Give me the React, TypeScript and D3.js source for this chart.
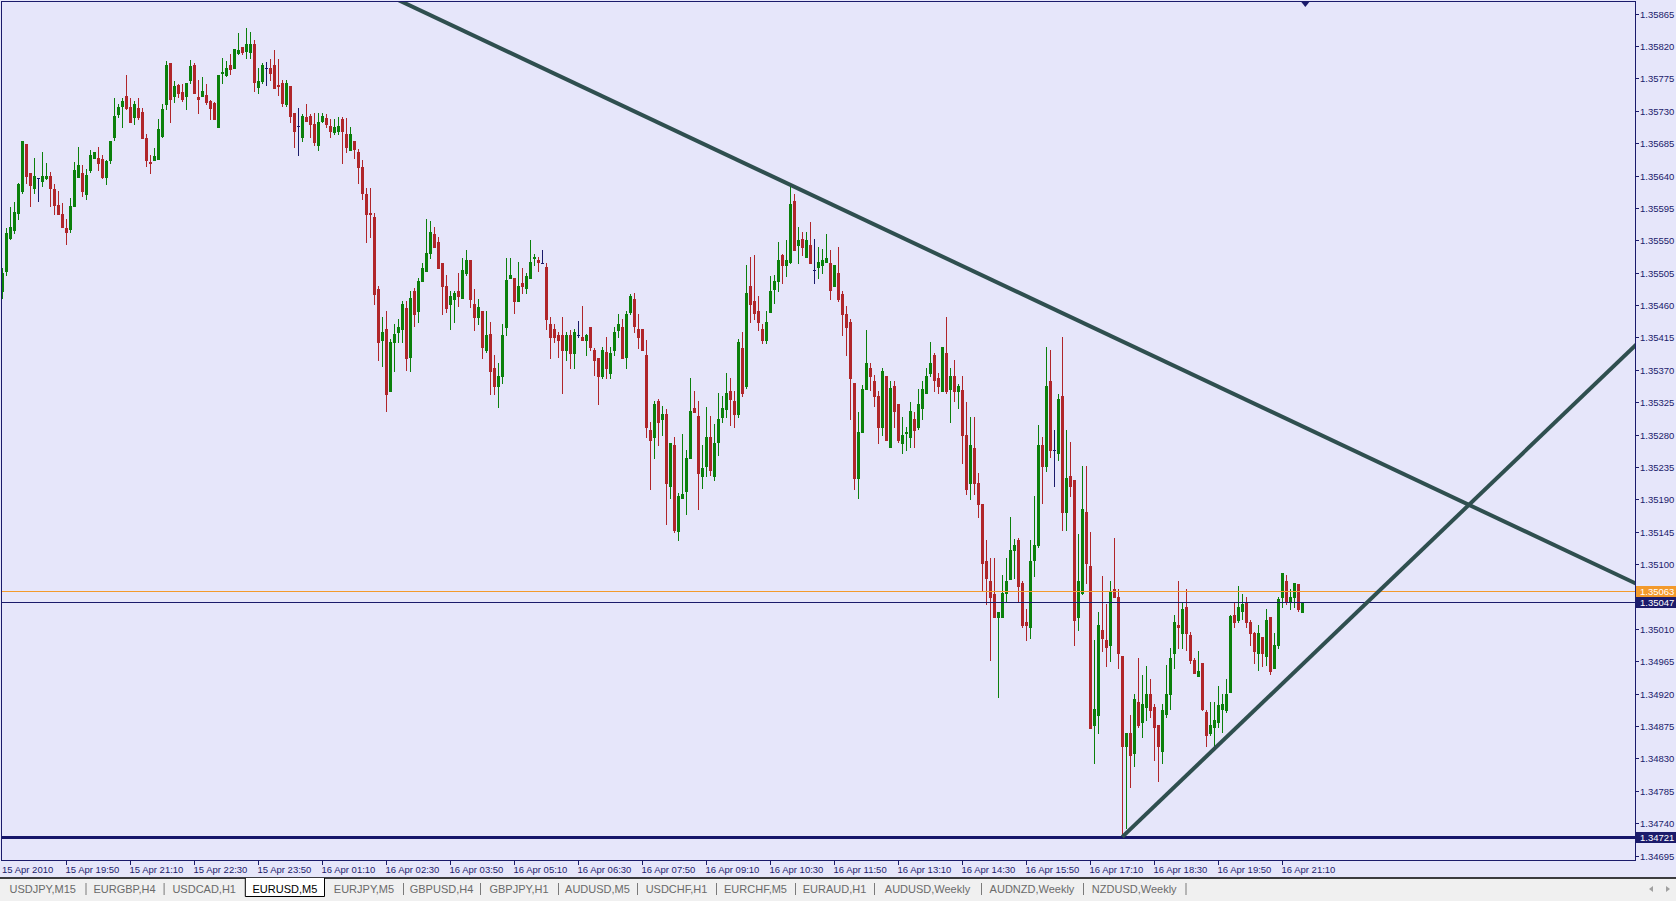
import React from "react";
import * as d3 from "d3";

// ---------- DATA (EURUSD, M5) ----------
const opens = [
1.35479,1.35507,1.35553,1.35564,1.35588,1.35619,1.35684,1.35643,1.35623,1.35637,
1.35633,1.35636,1.35640,1.35621,1.35599,1.35587,1.35567,1.35565,1.35597,1.35638,
1.35644,1.35614,1.35647,1.35665,1.35665,1.35663,1.35638,1.35662,1.35693,1.35726,
1.35737,1.35751,1.35735,1.35722,1.35734,1.35728,1.35692,1.35659,1.35661,1.35663,
1.35695,1.35739,1.35796,1.35751,1.35766,1.35756,1.35750,1.35773,1.35794,1.35749,
1.35751,1.35752,1.35744,1.35741,1.35708,1.35783,1.35779,1.35793,1.35790,1.35810,
1.35818,1.35813,1.35811,1.35823,1.35763,1.35772,1.35789,1.35789,1.35793,1.35766,
1.35768,1.35739,1.35764,1.35727,1.35709,1.35693,1.35722,1.35723,1.35712,1.35682,
1.35716,1.35720,1.35709,1.35701,1.35702,1.35719,1.35698,1.35675,1.35688,1.35673,
1.35652,1.35615,1.35588,1.35583,1.35483,1.35411,1.35427,1.35341,1.35408,1.35422,
1.35427,1.35456,1.35388,1.35480,1.35452,1.35494,1.35508,1.35533,1.35559,1.35548,
1.35518,1.35487,1.35462,1.35468,1.35480,1.35470,1.35504,1.35523,1.35462,1.35444,
1.35452,1.35397,1.35420,1.35373,1.35347,1.35361,1.35429,1.35498,1.35498,1.35465,
1.35490,1.35484,1.35498,1.35525,1.35523,1.35518,1.35513,1.35433,1.35427,1.35419,
1.35418,1.35397,1.35419,1.35394,1.35418,1.35416,1.35412,1.35429,1.35398,1.35387,
1.35361,1.35395,1.35366,1.35397,1.35426,1.35429,1.35388,1.35451,1.35469,1.35427,
1.35427,1.35390,1.35286,1.35277,1.35327,1.35302,1.35308,1.35208,1.35266,1.35146,
1.35192,1.35201,1.35248,1.35317,1.35306,1.35222,1.35236,1.35277,1.35222,1.35270,
1.35304,1.35316,1.35340,1.35327,1.35308,1.35401,1.35348,1.35487,1.35466,1.35452,
1.35427,1.35412,1.35451,1.35483,1.35494,1.35529,1.35516,1.35520,1.35605,1.35543,
1.35552,1.35527,1.35543,1.35509,1.35513,1.35516,1.35520,1.35519,1.35486,1.35505,
1.35476,1.35448,1.35437,1.35352,1.35220,1.35283,1.35344,1.35373,1.35355,1.35333,
1.35291,1.35362,1.35263,1.35348,1.35322,1.35269,1.35282,1.35277,1.35302,1.35290,
1.35317,1.35338,1.35365,1.35391,1.35359,1.35341,1.35394,1.35344,1.35362,1.35340,
1.35342,1.35279,1.35213,1.35261,1.35213,1.35184,1.35105,1.35077,1.35058,1.35026,
1.35027,1.35060,1.35080,1.35119,1.35133,1.35074,1.35020,1.35013,1.35106,1.35126,
1.35265,1.35236,1.35354,1.35259,1.35255,1.35334,1.35172,1.35223,1.35217,1.35027,
1.35060,1.35173,1.35098,1.34876,1.34890,1.35009,1.34995,1.34987,1.35066,1.35055,
1.34973,1.34847,1.34865,1.34838,1.34908,1.34880,1.34902,1.34919,1.34902,1.34876,
1.34840,1.34892,1.34919,1.34977,1.35015,1.35005,1.35041,1.35002,1.34967,1.34944,
1.34963,1.34895,1.34865,1.34874,1.34881,1.34899,1.34897,1.34922,1.35030,1.35022,
1.35035,1.35047,1.35019,1.35005,1.34977,1.34999,1.34972,1.35026,1.34956,1.34987,
1.35055,1.35077,1.35048,1.35054,1.35072,1.35033
];

const highs = [
1.35512,1.35567,1.35596,1.35603,1.35630,1.35688,1.35684,1.35643,1.35664,1.35637,
1.35673,1.35658,1.35645,1.35628,1.35619,1.35602,1.35579,1.35609,1.35659,1.35679,
1.35654,1.35649,1.35675,1.35673,1.35679,1.35669,1.35661,1.35688,1.35748,1.35740,
1.35748,1.35779,1.35748,1.35743,1.35748,1.35734,1.35698,1.35668,1.35678,1.35719,
1.35740,1.35799,1.35796,1.35771,1.35767,1.35767,1.35769,1.35800,1.35796,1.35773,
1.35777,1.35767,1.35745,1.35742,1.35779,1.35803,1.35799,1.35809,1.35816,1.35838,
1.35818,1.35845,1.35840,1.35829,1.35790,1.35797,1.35798,1.35802,1.35814,1.35802,
1.35773,1.35773,1.35764,1.35727,1.35734,1.35726,1.35739,1.35726,1.35727,1.35727,
1.35727,1.35726,1.35718,1.35719,1.35722,1.35722,1.35720,1.35708,1.35688,1.35677,
1.35661,1.35623,1.35623,1.35588,1.35487,1.35443,1.35452,1.35413,1.35433,1.35441,
1.35466,1.35466,1.35479,1.35484,1.35498,1.35519,1.35579,1.35577,1.35568,1.35554,
1.35519,1.35502,1.35479,1.35480,1.35505,1.35526,1.35537,1.35523,1.35483,1.35468,
1.35452,1.35452,1.35437,1.35391,1.35379,1.35434,1.35525,1.35525,1.35498,1.35520,
1.35512,1.35505,1.35550,1.35531,1.35527,1.35537,1.35518,1.35443,1.35433,1.35423,
1.35444,1.35423,1.35425,1.35427,1.35438,1.35459,1.35420,1.35430,1.35401,1.35387,
1.35402,1.35416,1.35402,1.35430,1.35448,1.35441,1.35452,1.35476,1.35477,1.35448,
1.35427,1.35412,1.35298,1.35327,1.35329,1.35320,1.35316,1.35268,1.35277,1.35199,
1.35281,1.35258,1.35358,1.35340,1.35326,1.35266,1.35318,1.35306,1.35295,1.35338,
1.35333,1.35366,1.35358,1.35340,1.35413,1.35422,1.35515,1.35527,1.35529,1.35473,
1.35433,1.35452,1.35500,1.35502,1.35548,1.35531,1.35550,1.35626,1.35615,1.35568,
1.35562,1.35561,1.35575,1.35552,1.35540,1.35538,1.35559,1.35537,1.35516,1.35540,
1.35480,1.35459,1.35440,1.35352,1.35311,1.35349,1.35425,1.35379,1.35363,1.35340,
1.35373,1.35362,1.35355,1.35354,1.35323,1.35304,1.35291,1.35325,1.35311,1.35344,
1.35354,1.35373,1.35408,1.35394,1.35365,1.35402,1.35444,1.35372,1.35384,1.35351,
1.35361,1.35325,1.35305,1.35305,1.35227,1.35184,1.35134,1.35108,1.35109,1.35034,
1.35085,1.35109,1.35165,1.35135,1.35137,1.35076,1.35038,1.35133,1.35194,1.35293,
1.35277,1.35402,1.35398,1.35287,1.35336,1.35416,1.35287,1.35270,1.35217,1.35142,
1.35237,1.35236,1.35144,1.34995,1.35033,1.35083,1.35045,1.35076,1.35137,1.35065,
1.34973,1.34866,1.34891,1.34919,1.34969,1.34946,1.34959,1.34940,1.34905,1.34876,
1.34905,1.34960,1.34983,1.35030,1.35077,1.35047,1.35066,1.35006,1.34970,1.34979,
1.34963,1.34898,1.34908,1.34908,1.34931,1.34919,1.34940,1.35030,1.35047,1.35069,
1.35059,1.35055,1.35023,1.35006,1.35016,1.34999,1.35038,1.35026,1.35005,1.35055,
1.35087,1.35085,1.35066,1.35074,1.35072,1.35047
];

const lows = [
1.35470,1.35502,1.35552,1.35560,1.35580,1.35616,1.35629,1.35597,1.35616,1.35604,
1.35626,1.35635,1.35597,1.35587,1.35587,1.35568,1.35545,1.35562,1.35597,1.35638,
1.35611,1.35608,1.35645,1.35664,1.35648,1.35636,1.35628,1.35658,1.35689,1.35722,
1.35708,1.35733,1.35715,1.35712,1.35718,1.35692,1.35653,1.35643,1.35661,1.35663,
1.35694,1.35733,1.35715,1.35742,1.35749,1.35743,1.35733,1.35769,1.35754,1.35727,
1.35751,1.35740,1.35719,1.35718,1.35708,1.35769,1.35778,1.35781,1.35789,1.35809,
1.35809,1.35803,1.35803,1.35757,1.35755,1.35769,1.35766,1.35773,1.35762,1.35752,
1.35737,1.35736,1.35714,1.35679,1.35669,1.35688,1.35716,1.35693,1.35682,1.35676,
1.35715,1.35707,1.35693,1.35698,1.35698,1.35658,1.35673,1.35675,1.35664,1.35629,
1.35608,1.35548,1.35554,1.35461,1.35383,1.35376,1.35313,1.35341,1.35369,1.35408,
1.35408,1.35370,1.35368,1.35431,1.35436,1.35494,1.35508,1.35525,1.35541,1.35511,
1.35448,1.35451,1.35427,1.35437,1.35459,1.35470,1.35502,1.35458,1.35425,1.35433,
1.35387,1.35395,1.35337,1.35337,1.35319,1.35352,1.35418,1.35498,1.35449,1.35465,
1.35477,1.35477,1.35498,1.35515,1.35508,1.35518,1.35427,1.35387,1.35408,1.35388,
1.35338,1.35383,1.35373,1.35373,1.35415,1.35411,1.35391,1.35398,1.35363,1.35322,
1.35358,1.35358,1.35359,1.35391,1.35415,1.35386,1.35373,1.35448,1.35422,1.35401,
1.35397,1.35276,1.35204,1.35248,1.35266,1.35279,1.35156,1.35192,1.35144,1.35134,
1.35192,1.35169,1.35248,1.35311,1.35177,1.35206,1.35222,1.35224,1.35217,1.35252,
1.35297,1.35305,1.35294,1.35290,1.35304,1.35333,1.35345,1.35436,1.35441,1.35426,
1.35407,1.35407,1.35451,1.35463,1.35480,1.35490,1.35500,1.35518,1.35536,1.35518,
1.35529,1.35527,1.35519,1.35490,1.35498,1.35504,1.35520,1.35469,1.35486,1.35466,
1.35419,1.35391,1.35301,1.35204,1.35192,1.35283,1.35344,1.35342,1.35320,1.35269,
1.35280,1.35272,1.35263,1.35291,1.35270,1.35254,1.35258,1.35263,1.35263,1.35288,
1.35301,1.35338,1.35361,1.35340,1.35338,1.35340,1.35338,1.35297,1.35326,1.35317,
1.35241,1.35197,1.35190,1.35198,1.35165,1.35062,1.35045,1.34967,1.35026,1.34916,
1.35026,1.35047,1.35079,1.35081,1.35047,1.35013,1.34994,1.34997,1.35084,1.35124,
1.35185,1.35229,1.35249,1.35208,1.35245,1.35148,1.35148,1.35195,1.34988,1.35009,
1.35058,1.35074,1.34873,1.34824,1.34866,1.34979,1.34958,1.34966,1.35055,1.34956,
1.34721,1.34734,1.34791,1.34819,1.34874,1.34860,1.34884,1.34887,1.34828,1.34799,
1.34824,1.34888,1.34899,1.34955,1.34984,1.34984,1.34980,1.34963,1.34949,1.34944,
1.34897,1.34847,1.34862,1.34847,1.34874,1.34867,1.34894,1.34922,1.35012,1.35020,
1.35024,1.35013,1.34987,1.34963,1.34953,1.34958,1.34960,1.34948,1.34956,1.34983,
1.35041,1.35045,1.35037,1.35040,1.35035,1.35033
];

const closes = [
1.35505,1.35560,1.35569,1.35589,1.35628,1.35688,1.35639,1.35627,1.35639,1.35637,
1.35639,1.35639,1.35623,1.35599,1.35587,1.35569,1.35562,1.35598,1.35648,1.35654,
1.35618,1.35641,1.35669,1.35673,1.35658,1.35638,1.35660,1.35688,1.35723,1.35735,
1.35744,1.35734,1.35715,1.35739,1.35722,1.35692,1.35662,1.35658,1.35667,1.35704,
1.35733,1.35794,1.35747,1.35765,1.35754,1.35747,1.35769,1.35792,1.35755,1.35747,
1.35757,1.35742,1.35734,1.35719,1.35779,1.35784,1.35789,1.35788,1.35816,1.35814,
1.35811,1.35823,1.35823,1.35770,1.35772,1.35793,1.35789,1.35782,1.35762,1.35764,
1.35741,1.35768,1.35723,1.35702,1.35709,1.35723,1.35716,1.35712,1.35687,1.35714,
1.35723,1.35712,1.35702,1.35708,1.35709,1.35702,1.35680,1.35698,1.35677,1.35652,
1.35616,1.35587,1.35586,1.35476,1.35408,1.35423,1.35337,1.35409,1.35420,1.35430,
1.35461,1.35387,1.35470,1.35447,1.35493,1.35512,1.35533,1.35562,1.35541,1.35512,
1.35487,1.35456,1.35473,1.35477,1.35472,1.35509,1.35522,1.35468,1.35443,1.35458,
1.35402,1.35418,1.35368,1.35347,1.35362,1.35419,1.35495,1.35502,1.35466,1.35487,
1.35486,1.35501,1.35520,1.35527,1.35520,1.35518,1.35441,1.35416,1.35415,1.35412,
1.35397,1.35418,1.35394,1.35423,1.35418,1.35411,1.35419,1.35402,1.35383,1.35361,
1.35398,1.35372,1.35393,1.35423,1.35434,1.35387,1.35448,1.35473,1.35431,1.35416,
1.35397,1.35290,1.35272,1.35323,1.35297,1.35309,1.35213,1.35268,1.35147,1.35194,
1.35198,1.35248,1.35313,1.35311,1.35227,1.35233,1.35277,1.35231,1.35269,1.35301,
1.35317,1.35338,1.35329,1.35308,1.35409,1.35338,1.35477,1.35462,1.35449,1.35437,
1.35411,1.35437,1.35479,1.35493,1.35523,1.35515,1.35523,1.35601,1.35537,1.35550,
1.35541,1.35550,1.35519,1.35509,1.35520,1.35523,1.35525,1.35481,1.35516,1.35469,
1.35447,1.35430,1.35359,1.35219,1.35284,1.35344,1.35379,1.35361,1.35334,1.35291,
1.35368,1.35272,1.35345,1.35313,1.35273,1.35279,1.35283,1.35313,1.35287,1.35323,
1.35343,1.35362,1.35380,1.35356,1.35347,1.35402,1.35341,1.35362,1.35341,1.35348,
1.35279,1.35204,1.35265,1.35213,1.35183,1.35102,1.35081,1.35054,1.35026,1.35033,
1.35060,1.35076,1.35119,1.35127,1.35069,1.35015,1.35016,1.35105,1.35126,1.35265,
1.35236,1.35348,1.35258,1.35259,1.35330,1.35172,1.35220,1.35208,1.35023,1.35077,
1.35176,1.35102,1.34873,1.34899,1.35015,1.34997,1.34985,1.35063,1.35055,1.34976,
1.34847,1.34866,1.34835,1.34913,1.34877,1.34905,1.34919,1.34898,1.34874,1.34847,
1.34898,1.34919,1.34969,1.35019,1.35012,1.35037,1.35005,1.34967,1.34949,1.34951,
1.34899,1.34862,1.34876,1.34883,1.34904,1.34905,1.34919,1.35028,1.35020,1.35041,
1.35045,1.35020,1.35005,1.34979,1.35004,1.34976,1.35022,1.34951,1.34988,1.35052,
1.35087,1.35049,1.35054,1.35074,1.35037,1.35047
];

const priceTicks = [
1.35865,1.35820,1.35775,1.35730,1.35685,1.35640,1.35595,1.35550,1.35505,1.35460,
1.35415,1.35370,1.35325,1.35280,1.35235,1.35190,1.35145,1.35100,1.35010,1.34965,
1.34920,1.34875,1.34830,1.34785,1.34740,1.34695
];

const timeTickBars = [0,16,32,48,64,80,96,112,128,144,160,176,192,208,224,240,256,272,288,304,320];
const timeTickLabels = [
"15 Apr 2010","15 Apr 19:50","15 Apr 21:10","15 Apr 22:30","15 Apr 23:50","16 Apr 01:10",
"16 Apr 02:30","16 Apr 03:50","16 Apr 05:10","16 Apr 06:30","16 Apr 07:50","16 Apr 09:10",
"16 Apr 10:30","16 Apr 11:50","16 Apr 13:10","16 Apr 14:30","16 Apr 15:50","16 Apr 17:10",
"16 Apr 18:30","16 Apr 19:50","16 Apr 21:10"
];

const askPrice = 1.35063;
const bidPrice = 1.35047;
const supportLevel = 1.34721;
const resistanceBars = [197, 400];
const resistancePrices = [1.35627, 1.35095];
const supportBars = [280, 320];
const supportPrices = [1.34721, 1.34934];

const tabNames = ["USDJPY,M15","EURGBP,H4","USDCAD,H1","EURUSD,M5","EURJPY,M5","GBPUSD,H4","GBPJPY,H1","AUDUSD,M5","USDCHF,H1","EURCHF,M5","EURAUD,H1","AUDUSD,Weekly","AUDNZD,Weekly","NZDUSD,Weekly"];
const activeTab = 3;

// ---------- LAYOUT ----------
const W = 1676, H = 901;
const PL = 1, PT = 1, PR = 1635, PB = 860;
const BAR = 4;
const tabEdges = [0, 85.5, 163.6, 244.8, 325, 403, 480, 558, 637, 716, 795, 874, 981, 1083, 1185.5];

const BG = "#E6E6FA";
const NAVY = "#1b1b6b";
const BULL = "#0b800b";
const BEAR = "#b0262a";
const TREND = "#2f4f4f";
const ORANGE = "#f39a2c";
const FONT = "'Liberation Sans', Arial, sans-serif";

export default function App() {
  const n = opens.length;
  const x = d3.scaleLinear().domain([0, n - 1]).range([2.33, 2.33 + BAR * (n - 1)]);
  const y = d3.scaleLinear().domain([1.34695, 1.35865]).range([855.6, 13.6]);

  const candles = d3.range(n).map((i) => {
    const o = opens[i], c = closes[i];
    const hi = Math.max(highs[i], o, c), lo = Math.min(lows[i], o, c);
    const cx = Math.round(x(i));
    const color = o === c ? NAVY : c > o ? BULL : BEAR;
    const wt = Math.round(y(hi)), wb = Math.round(y(lo));
    const bt = Math.round(y(Math.max(o, c))), bb = Math.round(y(Math.min(o, c)));
    return (
      <g key={i} fill={color}>
        <rect x={cx} y={wt} width={1} height={Math.max(1, wb - wt + 1)} />
        <rect x={cx - 1} y={bt} width={3} height={Math.max(1, bb - bt + 1)} />
      </g>
    );
  });

  const lineAt = (bars: number[], prices: number[]) => (b: number) =>
    prices[0] + ((b - bars[0]) * (prices[1] - prices[0])) / (bars[1] - bars[0]);
  const res = lineAt(resistanceBars, resistancePrices);
  const sup = lineAt(supportBars, supportPrices);
  const bL = x.invert(PL), bR = x.invert(PR + 2);
  const resLine = d3.line<[number, number]>()([[x(bL), y(res(bL))], [x(bR), y(res(bR))]]) || "";
  const supLine = d3.line<[number, number]>()([[x(supportBars[0]), y(sup(supportBars[0]))], [x(bR), y(sup(bR))]]) || "";

  const fmt = d3.format(".5f");
  const py = (p: number) => Math.round(y(p)) + 0.5;

  return (
    <svg width={W} height={H} style={{ position: "absolute", left: 0, top: 0, display: "block" }} fontFamily={FONT}>
      <defs>
        <clipPath id="plot">
          <rect x={PL + 1} y={PT + 1} width={PR - PL - 1} height={PB - PT - 1} />
        </clipPath>
      </defs>
      <rect x={0} y={0} width={W} height={H} fill={BG} />

      <g clipPath="url(#plot)">
        {candles}
        <line x1={PL} x2={PR} y1={py(askPrice)} y2={py(askPrice)} stroke={ORANGE} strokeWidth={1} />
        <line x1={PL} x2={PR} y1={py(bidPrice)} y2={py(bidPrice)} stroke={NAVY} strokeWidth={1} />
        <line x1={PL} x2={PR} y1={py(supportLevel)} y2={py(supportLevel)} stroke="#16166a" strokeWidth={3} />
        <path d={resLine} stroke={TREND} strokeWidth={4} fill="none" />
        <path d={supLine} stroke={TREND} strokeWidth={4} fill="none" />
      </g>

      {/* frame */}
      <rect x={PL + 0.5} y={PT + 0.5} width={PR - PL} height={PB - PT} fill="none" stroke={NAVY} strokeWidth={1} />
      {/* shift marker */}
      <path d={`M${x(n - 1) - 1},${PT + 1} L${x(n - 1) + 7},${PT + 1} L${x(n - 1) + 3},${PT + 6} Z`} fill={NAVY} />

      {/* price axis */}
      <g fontSize={9.5} fill={NAVY}>
        {priceTicks.map((p) => {
          const yy = py(p);
          return (
            <g key={p}>
              <line x1={PR + 0.5} x2={PR + 4} y1={yy} y2={yy} stroke={NAVY} />
              <text x={PR + 5} y={yy} dominantBaseline="central">{fmt(p)}</text>
            </g>
          );
        })}
      </g>
      {[
        { p: askPrice, bg: ORANGE },
        { p: bidPrice, bg: NAVY },
        { p: supportLevel, bg: NAVY },
      ].map((b) => {
        const yy = Math.round(y(b.p));
        return (
          <g key={b.p}>
            <rect x={PR + 1} y={yy - 5} width={W - PR - 1} height={11} fill={b.bg} />
            <text x={PR + 5} y={yy + 0.5} dominantBaseline="central" fontSize={9.5} fill="#ffffff">{fmt(b.p)}</text>
          </g>
        );
      })}

      {/* time axis */}
      <g fontSize={9.5} fill={NAVY}>
        {timeTickBars.map((b, k) => {
          const xx = Math.round(x(b)) + 0.5;
          return (
            <g key={b}>
              {k > 0 && <line x1={xx} x2={xx} y1={PB + 0.5} y2={PB + 5} stroke={NAVY} />}
              <text x={k === 0 ? 2 : xx - 1} y={869} dominantBaseline="central">{timeTickLabels[k]}</text>
            </g>
          );
        })}
      </g>

      {/* tabs */}
      <rect x={0} y={878} width={W} height={H - 878} fill="#f0f0f0" />
      <line x1={0} x2={W} y1={878} y2={878} stroke="#000" strokeWidth={1.5} />
      {tabNames.map((t, k) => {
        const x0 = tabEdges[k], x1 = tabEdges[k + 1];
        const active = k === activeTab;
        return (
          <g key={t + k}>
            {active && (
              <path d={`M${x0 + 0.5},878 L${x0 + 0.5},896.5 L${x1 - 0.5},896.5 L${x1 - 0.5},878`} fill="#ffffff" stroke="#000" strokeWidth={1} />
            )}
            <text x={(x0 + x1) / 2} y={889} textAnchor="middle" dominantBaseline="central" fontSize={11} fill={active ? "#000" : "#6a6a6a"}>{t}</text>
            {!active && k + 1 !== activeTab && (
              <line x1={x1 + 0.5} x2={x1 + 0.5} y1={883} y2={895} stroke="#7a7a7a" strokeWidth={1} />
            )}
          </g>
        );
      })}
      <path d="M1649,889 L1653,886 L1653,892 Z" fill="#a0a0a0" />
      <path d="M1670,889 L1666,886 L1666,892 Z" fill="#a0a0a0" />
    </svg>
  );
}
